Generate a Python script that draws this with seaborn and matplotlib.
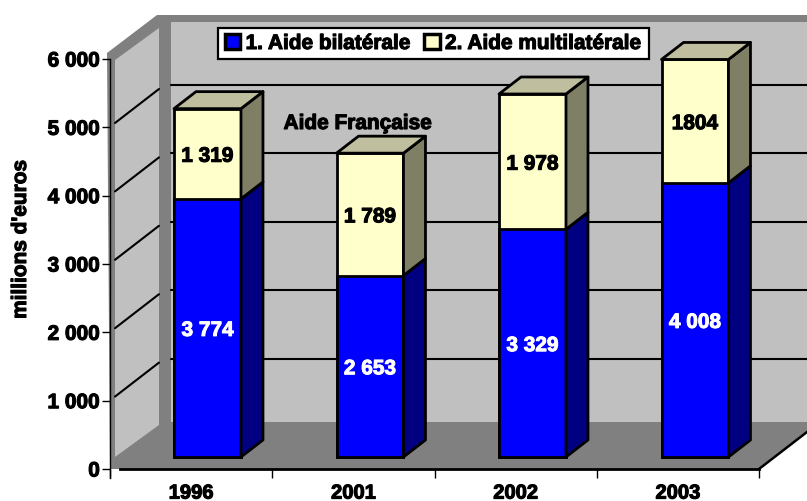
import pandas as pd
import seaborn as sns
import matplotlib.pyplot as plt
import matplotlib.patheffects as pe
from matplotlib.patches import Patch, Polygon

# Data
annees = ['1996', '2001', '2002', '2003']
bilaterale = [3774, 2653, 3329, 4008]
multilaterale = [1319, 1789, 1978, 1804]
labels_bi = ['3 774', '2 653', '3 329', '4 008']
labels_multi = ['1 319', '1 789', '1 978', '1804']
yticks = [0, 1000, 2000, 3000, 4000, 5000, 6000]
ytick_labels = ['0', '1 000', '2 000', '3 000', '4 000', '5 000', '6 000']
grid_vals = [1000, 2000, 3000, 4000, 5000]

df = pd.DataFrame({'annee': annees, 'bi': bilaterale, 'multi': multilaterale})
df['total'] = df['bi'] + df['multi']

W, H = 807, 501
PX_UNIT = 0.0684     # pixels per euro million
BASE = 457           # pixel row of bar bottoms
STEP = 162.5         # pixels between bars
X0 = 207.5           # pixel column of first bar centre
BAR_W = 0.412
DX = 22 / STEP       # depth of the bars
DY = 17 / PX_UNIT
TXT_SHIFT = 2.5 / PX_UNIT
EDGE = 2.0

BLUE, NAVY = '#0000ff', '#000080'
CREAM, OLIVE, KHAKI = '#ffffcc', '#7f7f66', '#bfbf9f'
WALL, DARK = '#c0c0c0', '#808080'

sns.set_theme(style='white')
plt.rcParams['font.family'] = ['Liberation Sans', 'DejaVu Sans']
plt.rcParams['font.weight'] = 'bold'
plt.rcParams['text.color'] = 'black'
plt.rcParams['axes.labelcolor'] = 'black'
plt.rcParams['xtick.color'] = 'black'
plt.rcParams['ytick.color'] = 'black'
heavy = [pe.withStroke(linewidth=0.8, foreground='black')]
heavy_w = [pe.withStroke(linewidth=0.7, foreground='white')]

fig = plt.figure(figsize=(W / 100, H / 100), dpi=100)

# Walls and floor, in pixel coordinates
bg = fig.add_axes([0, 0, 1, 1], zorder=0)
bg.set_xlim(0, W)
bg.set_ylim(H, 0)
bg.set_axis_off()
bg.add_patch(Polygon([(107, 53), (157, 15), (807, 15), (807, 432), (759, 469), (110, 469)],
                     fc=DARK, ec='none'))
bg.add_patch(Polygon([(115, 60), (159, 28), (159, 425), (115, 457)], fc=WALL, ec='none'))
bg.add_patch(Polygon([(170.5, 22), (807, 22), (807, 421.5), (170.5, 421.5)], fc=WALL, ec='none'))
for v in grid_vals:
    y = 469 - PX_UNIT * v
    bg.plot([115, 159], [y - 4, y - 38], color='black', lw=1.5)
    bg.plot([170.5, 807], [y - 42, y - 42], color='black', lw=1.5)
bg.plot([759, 807], [469, 432], color='black', lw=1.8)
bg.text(358, 123.5, 'Aide Française', ha='center', va='center', fontsize=15,
        color='black', path_effects=heavy)

# Front axis with the ticks
axf = fig.add_axes([110 / W, (H - 469) / H, (759 - 110) / W, (469 - 59) / H], zorder=1)
axf.patch.set_alpha(0)
axf.set_xlim(0, 4)
axf.set_ylim(0, 6000)
for s in ['top', 'right']:
    axf.spines[s].set_visible(False)
axf.spines['left'].set_linewidth(1)
axf.spines['left'].set_color('black')
axf.spines['left'].set_bounds(-130, 6000)
axf.spines['bottom'].set_linewidth(2)
axf.spines['bottom'].set_color('black')
axf.spines['bottom'].set_bounds(0.06, 4)
axf.set_yticks(yticks)
axf.set_yticklabels(ytick_labels, fontsize=15, path_effects=heavy)
axf.tick_params(axis='y', length=5.8, width=1, color='black', pad=1.5, left=True)
axf.set_xticks([0, 1, 2, 3, 4])
axf.set_xticklabels([])
axf.tick_params(axis='x', which='major', length=6.2, width=1, color='black', bottom=True)
axf.set_xticks([0.5, 1.5, 2.5, 3.5], minor=True)
axf.set_xticklabels(annees, minor=True, fontsize=14.5, path_effects=heavy)
axf.tick_params(axis='x', which='minor', length=0, pad=10.5)
axf.set_ylabel("millions d'euros", fontsize=15, fontweight='bold', labelpad=0, path_effects=heavy)
axf.yaxis.set_label_coords((30 - 110) / (759 - 110), (469 - 239) / (469 - 59))

# Bars, stacked by drawing the total first
ax = fig.add_axes([0, 0, 1, 1], zorder=2)
ax.patch.set_alpha(0)
sns.barplot(data=df, x='annee', y='total', color=CREAM, saturation=1, width=BAR_W,
            edgecolor='black', linewidth=EDGE, ax=ax)
sns.barplot(data=df, x='annee', y='bi', color=BLUE, saturation=1, width=BAR_W,
            edgecolor='black', linewidth=EDGE, ax=ax)
ax.set_xlim(-X0 / STEP, (W - X0) / STEP)
ax.set_ylim((BASE - H) / PX_UNIT, BASE / PX_UNIT)
ax.set_axis_off()

# Side and top faces of each bar
for i, (bi, multi) in enumerate(zip(bilaterale, multilaterale)):
    r = i + BAR_W / 2
    l = i - BAR_W / 2
    top = bi + multi
    ax.add_patch(Polygon([(r, 0), (r + DX, DY), (r + DX, bi + DY), (r, bi)],
                         fc=NAVY, ec='black', lw=EDGE, joinstyle='round'))
    ax.add_patch(Polygon([(r, bi), (r + DX, bi + DY), (r + DX, top + DY), (r, top)],
                         fc=OLIVE, ec='black', lw=EDGE, joinstyle='round'))
    ax.add_patch(Polygon([(l, top), (r, top), (r + DX, top + DY), (l + DX, top + DY)],
                         fc=KHAKI, ec='black', lw=EDGE, joinstyle='round'))
    ax.text(i, bi / 2 - TXT_SHIFT, labels_bi[i], ha='center', va='center', fontsize=15,
            color='white', path_effects=heavy_w)
    ax.text(i, bi + multi / 2 - TXT_SHIFT, labels_multi[i], ha='center', va='center', fontsize=15,
            color='black', path_effects=heavy)

# Legend box along the top
handles = [Patch(fc=BLUE, ec='black', lw=2.5), Patch(fc=CREAM, ec='black', lw=2.5)]
leg = ax.legend(handles, ['1. Aide bilatérale', '2. Aide multilatérale'], ncol=2,
                loc='center', bbox_to_anchor=(433.5 / W, (H - 43.5) / H),
                bbox_transform=fig.transFigure, fontsize=15, frameon=True, fancybox=False,
                framealpha=1, facecolor='white', edgecolor='black',
                handlelength=0.75, handleheight=0.75, handletextpad=0.25, columnspacing=0.6,
                borderpad=0.3, borderaxespad=0)
leg.get_frame().set_linewidth(1.6)
for t in leg.get_texts():
    t.set_path_effects(heavy)

fig.savefig('out.png', dpi=100)
plt.close(fig)
